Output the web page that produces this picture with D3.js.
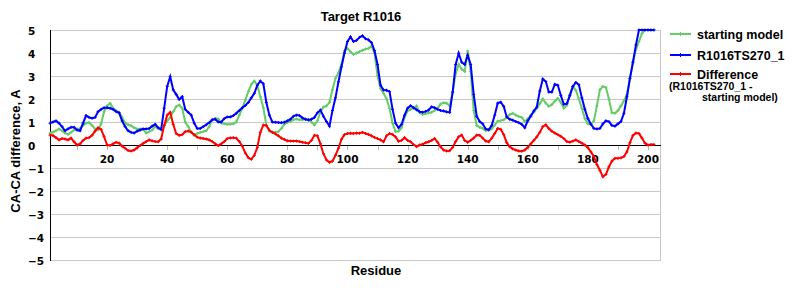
<!DOCTYPE html>
<html><head><meta charset="utf-8">
<script src="https://cdn.jsdelivr.net/npm/d3@7"></script>
<style>body{margin:0;background:#fff}svg{display:block}</style>
</head><body><svg id="c" width="800" height="300"></svg>
<script>
const titleText = "Target R1016";
const xTitle = "Residue";
const yTitle = "CA-CA difference, A";
const residues = d3.range(1, 203);
const xTickLabels = [20,40,60,80,100,120,140,160,180,200];
const xMinorTicks = [10,20,30,40,50,60,70,80,90,100,110,120,130,140,150,160,170,180,190,200];
const yTicks = [5,4,3,2,1,0,-1,-2,-3,-4,-5];
const seriesNames = ["starting model","R1016TS270_1","Difference"];

const startingModel = [0.52,0.56,0.62,0.7,0.62,0.52,0.46,0.55,0.65,0.7,0.72,0.85,0.95,0.98,0.85,0.7,0.65,0.92,1.45,1.7,
1.81,1.6,1.5,1.42,1.2,0.95,0.88,0.84,0.75,0.7,0.7,0.68,0.52,0.58,0.65,0.8,0.72,0.65,0.85,1.05,
1.2,1.45,1.67,1.74,1.6,1.0,0.8,0.55,0.42,0.5,0.55,0.58,0.62,0.8,1.1,1.16,1.13,0.95,0.92,0.9,
0.9,0.92,1.0,1.3,1.6,1.95,2.32,2.64,2.78,2.6,2.1,1.62,0.85,0.6,0.56,0.55,0.58,0.72,0.9,0.98,
1.02,1.1,1.13,1.1,1.1,1.13,1.1,1.0,0.87,1.05,1.45,1.65,1.7,1.85,2.4,2.9,3.15,3.5,4.1,4.2,
4.05,3.94,4.0,4.06,4.12,4.17,4.2,4.3,4.0,3.0,2.45,2.25,2.0,1.6,0.95,0.58,0.6,0.75,1.22,1.48,
1.55,1.6,1.7,1.4,1.33,1.36,1.4,1.42,1.5,1.6,1.78,1.84,1.82,1.7,2.3,3.1,3.51,3.3,3.2,4.09,
3.2,1.5,0.85,0.77,0.72,0.62,0.65,0.7,0.87,1.04,1.06,1.09,1.2,1.32,1.38,1.3,1.24,1.2,1.02,1.14,
1.3,1.42,1.6,1.8,2.0,1.82,1.68,1.75,1.9,2.03,1.85,1.6,1.72,2.2,2.54,2.38,2.0,1.6,1.15,0.92,
0.9,1.05,1.7,2.4,2.55,2.5,2.0,1.4,1.38,1.5,1.7,1.92,2.2,2.9,3.6,4.15,4.5,4.85,5.0,5.0,
5.0,5.0];

const model270 = [0.95,1.0,1.05,0.95,0.8,0.62,0.7,0.77,0.77,0.65,0.62,0.95,1.28,1.2,1.16,1.2,1.45,1.55,1.62,1.62,
1.6,1.55,1.45,1.4,1.05,0.8,0.62,0.55,0.52,0.6,0.65,0.7,0.7,0.72,0.82,0.9,0.75,0.68,1.6,2.55,
2.97,2.4,2.2,1.98,2.1,1.55,1.42,1.3,0.95,0.72,0.72,0.8,0.88,0.98,1.1,1.12,1.0,1.0,1.15,1.22,
1.22,1.28,1.38,1.5,1.62,1.72,1.85,2.05,2.25,2.6,2.78,2.66,1.85,1.3,1.0,0.99,0.98,0.97,0.99,1.05,
1.12,1.25,1.3,1.28,1.18,1.12,1.09,1.12,1.2,1.4,1.52,1.25,1.02,0.82,1.5,2.05,2.75,3.4,4.0,4.5,
4.7,4.5,4.55,4.68,4.75,4.62,4.57,4.45,4.1,3.5,2.6,2.39,2.38,2.32,1.55,0.95,0.75,0.9,1.3,1.6,
1.71,1.62,1.53,1.45,1.42,1.46,1.52,1.66,1.62,1.55,1.5,1.48,1.44,1.42,2.3,3.5,3.99,3.6,3.5,3.9,
3.5,2.2,1.25,1.02,0.92,0.7,0.66,0.85,1.3,1.82,1.86,1.68,1.22,1.12,1.08,1.02,0.97,0.9,0.75,1.05,
1.25,1.48,1.65,2.35,2.87,2.76,2.3,2.3,2.64,2.6,2.15,1.77,1.8,2.15,2.55,2.72,2.62,2.05,1.55,1.15,
0.9,0.72,0.7,0.72,0.92,1.05,1.02,0.85,0.82,0.92,1.02,1.38,2.1,2.9,3.6,4.35,5.0,5.0,5.0,5.0,
5.0,5.0];

const difference = [0.43,0.41,0.32,0.22,0.28,0.26,0.22,0.3,0.14,0.0,0.05,0.2,0.3,0.32,0.42,0.6,0.75,0.68,0.36,0.0,
-0.02,0.05,0.12,0.08,-0.05,-0.14,-0.24,-0.26,-0.22,-0.12,-0.02,0.07,0.15,0.22,0.18,0.15,0.14,0.26,0.85,1.3,
1.42,0.9,0.5,0.42,0.45,0.58,0.61,0.56,0.45,0.34,0.3,0.28,0.26,0.22,0.15,0.05,-0.03,0.05,0.15,0.28,
0.31,0.32,0.3,0.15,-0.05,-0.35,-0.55,-0.62,-0.45,-0.1,0.55,0.87,0.85,0.64,0.55,0.48,0.4,0.3,0.24,0.18,
0.17,0.17,0.17,0.15,0.12,0.1,0.07,0.2,0.42,0.4,0.05,-0.38,-0.65,-0.75,-0.7,-0.45,-0.14,0.25,0.45,0.5,
0.51,0.5,0.52,0.51,0.55,0.5,0.46,0.4,0.33,0.28,0.22,0.14,0.4,0.5,0.46,0.35,0.16,0.2,0.32,0.2,
0.14,0.02,-0.07,0.0,0.03,0.1,0.14,0.2,0.28,0.12,-0.08,-0.22,-0.26,-0.25,-0.1,0.15,0.36,0.43,0.2,0.12,
0.2,0.3,0.43,0.42,0.3,0.17,0.14,0.3,0.5,0.72,0.68,0.45,0.1,-0.08,-0.17,-0.22,-0.26,-0.27,-0.22,-0.1,
0.05,0.2,0.35,0.55,0.8,0.88,0.72,0.6,0.52,0.45,0.38,0.28,0.15,0.12,0.17,0.22,0.15,0.08,0.0,-0.12,
-0.3,-0.5,-0.85,-1.1,-1.38,-1.28,-0.95,-0.7,-0.58,-0.58,-0.56,-0.5,-0.3,0.1,0.42,0.52,0.5,0.3,0.08,0.0,
0.02,0.02];

const colors = ["#66cc66","#0000ff","#ff0000"];
const seriesData = [startingModel, model270, difference];

const svg = d3.select("#c");
const L = 50, R = 660, T = 30, B = 260;
const x = d3.scaleLinear().domain([1, 204]).range([L, R]);
const y = d3.scaleLinear().domain([-5, 5]).range([B, T]);
const sansB = "'Liberation Sans', Arial, sans-serif";
const tickF = "'DejaVu Sans', Verdana, sans-serif";

// grid
svg.append("g").selectAll("line").data(yTicks.filter(d => d !== 0)).join("line")
  .attr("x1", L).attr("x2", R).attr("y1", d => y(d) + 0.5).attr("y2", d => y(d) + 0.5)
  .attr("stroke", "#c8c8c8").attr("stroke-width", 1);
svg.append("line").attr("x1", R + 0.5).attr("x2", R + 0.5).attr("y1", T).attr("y2", B + 1)
  .attr("stroke", "#c8c8c8");

// minor ticks on zero line
svg.append("g").selectAll("line").data(xMinorTicks).join("line")
  .attr("x1", d => Math.round(x(d)) + 0.5).attr("x2", d => Math.round(x(d)) + 0.5)
  .attr("y1", y(0)).attr("y2", y(0) + 5).attr("stroke", "#b8b8b8");

// zero line & y axis
svg.append("line").attr("x1", L).attr("x2", R + 1).attr("y1", y(0) + 0.5).attr("y2", y(0) + 0.5)
  .attr("stroke", "#000");
svg.append("line").attr("x1", L + 0.5).attr("x2", L + 0.5).attr("y1", T).attr("y2", B + 1)
  .attr("stroke", "#000");

// y labels
svg.append("g").selectAll("text").data(yTicks).join("text")
  .attr("x", 28).attr("y", d => y(d) + 4.5)
  .attr("font-family", tickF).attr("font-weight", "bold").attr("font-size", 10.5)
  .text(d => d < 0 ? "\u2212" + Math.abs(d) : d);

// x labels
svg.append("g").selectAll("text").data(xTickLabels).join("text")
  .attr("x", d => x(d)).attr("y", 163)
  .attr("text-anchor", "middle")
  .attr("font-family", tickF).attr("font-weight", "bold").attr("font-size", 10.5)
  .text(d => d);

// series
const line = d3.line().x((d, i) => x(residues[i])).y(d => y(d));
seriesData.forEach((s, k) => {
  svg.append("path").datum(s).attr("d", line)
    .attr("fill", "none").attr("stroke", colors[k]).attr("stroke-width", 2)
    .attr("stroke-linejoin", "miter");
  svg.append("g").selectAll("path").data(s).join("path")
    .attr("d", (d, i) => {
      const px = x(residues[i]), py = y(d);
      return `M${px - 1.5},${py}H${px + 1.5}M${px},${py - 1.5}V${py + 1.5}`;
    })
    .attr("stroke", colors[k]).attr("stroke-width", 1).attr("fill", "none");
});

// titles
svg.append("text").attr("x", 361).attr("y", 20.5).attr("text-anchor", "middle")
  .attr("font-family", sansB).attr("font-weight", "bold").attr("font-size", 13).text(titleText);
svg.append("text").attr("x", 376).attr("y", 275).attr("text-anchor", "middle")
  .attr("font-family", sansB).attr("font-weight", "bold").attr("font-size", 13).text(xTitle);
svg.append("text").attr("transform", "translate(20,151) rotate(-90)").attr("text-anchor", "middle")
  .attr("font-family", sansB).attr("font-weight", "bold").attr("font-size", 13).text(yTitle);

// legend
const legY = [34, 55, 74];
const lg = svg.append("g");
seriesNames.forEach((n, k) => {
  lg.append("line").attr("x1", 670).attr("x2", 691).attr("y1", legY[k]).attr("y2", legY[k])
    .attr("stroke", colors[k]).attr("stroke-width", 2);
  lg.append("path").attr("d", `M680.5,${legY[k] - 2}V${legY[k] + 2}`)
    .attr("stroke", colors[k]).attr("stroke-width", 1);
  lg.append("text").attr("x", 697).attr("y", legY[k] + 4.5)
    .attr("font-family", sansB).attr("font-weight", "bold").attr("font-size", 12.5).text(n);
});
lg.append("text").attr("x", 669).attr("y", 90).attr("font-family", sansB).attr("font-weight", "bold")
  .attr("font-size", 10.5).text("(R1016TS270_1 -");
lg.append("text").attr("x", 702).attr("y", 101).attr("font-family", sansB).attr("font-weight", "bold")
  .attr("font-size", 10.5).text("starting model)");
</script></body></html>
